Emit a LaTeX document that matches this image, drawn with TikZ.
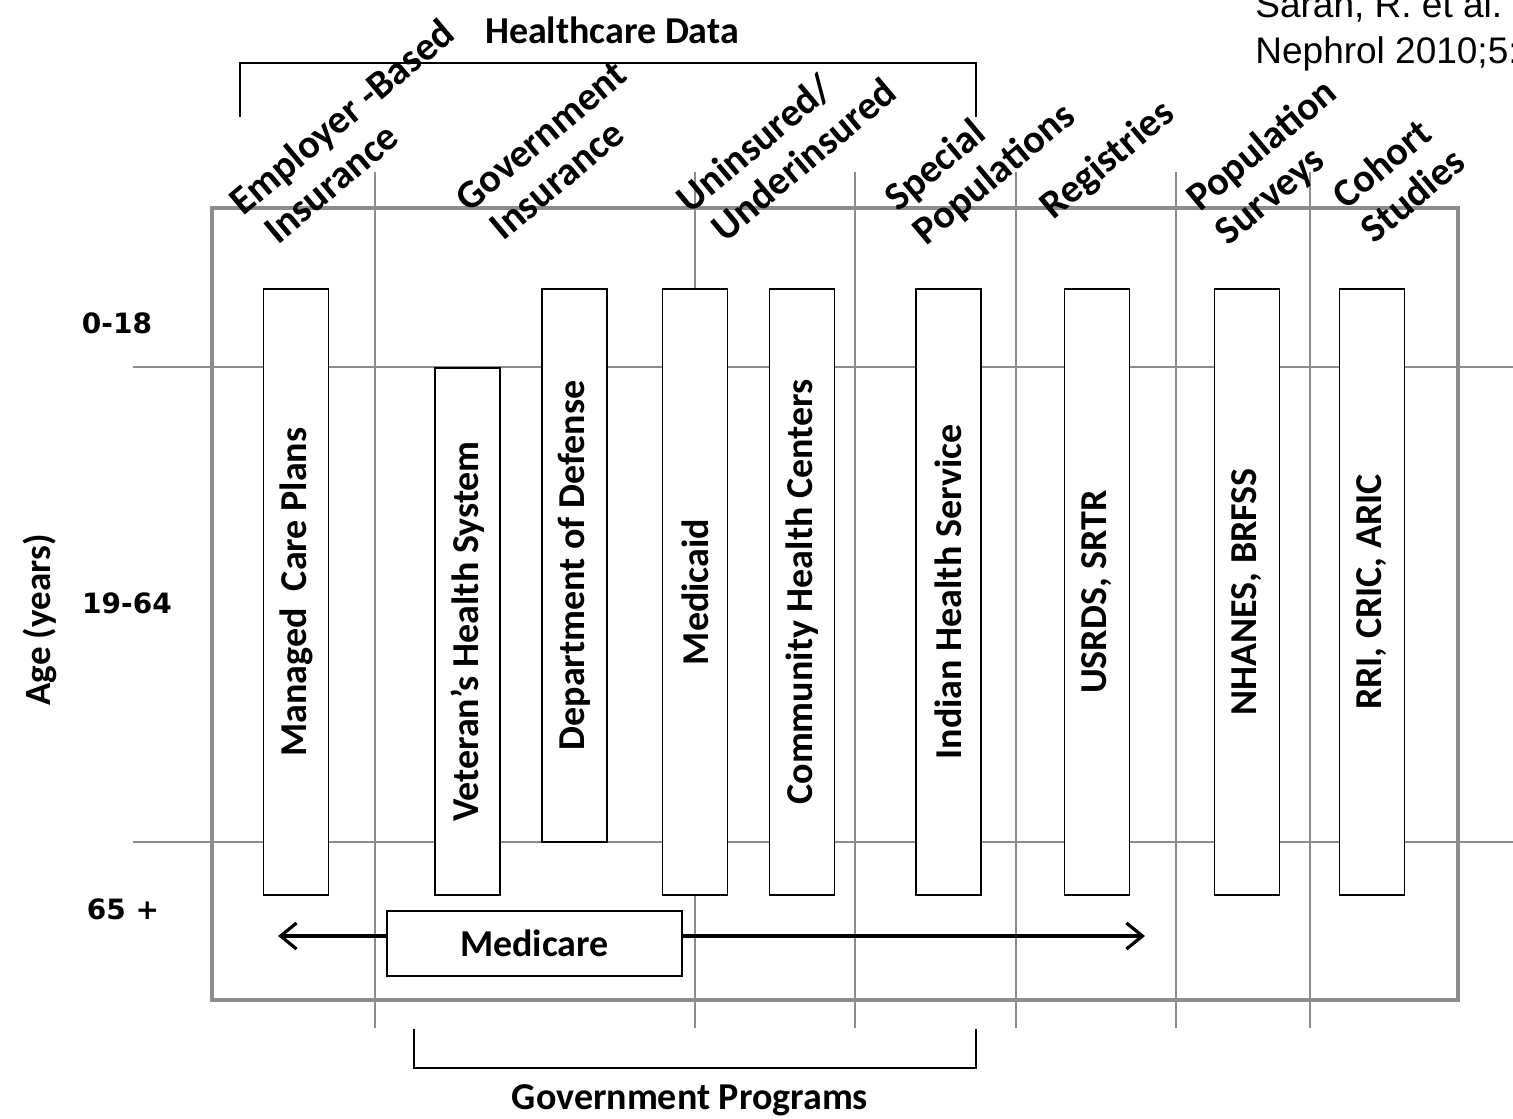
\documentclass[tikz,border=0pt]{standalone}
\usepackage{fontspec}
\setmainfont{Carlito}
\newfontfamily\agefont{DejaVu Sans}
\newfontfamily\citefont{Liberation Sans}
\usetikzlibrary{arrows.meta}
\definecolor{linegray}{HTML}{8C8C8C}

\begin{document}
\begin{tikzpicture}[
    x=0.5pt, y=-0.5pt,
    every node/.style={
      inner sep=0pt,
      font=\bfseries\fontsize{19}{23}\selectfont
    },
    grid/.style={draw=linegray, line width=1pt},
    frame/.style={draw=linegray, line width=2pt},
    bar/.style={draw=black, fill=white, line width=0.9pt, rotate=90, minimum height=32.5pt},
    medbox/.style={draw=black, fill=white, line width=0.9pt},
    head/.style={rotate=40, anchor=north west, align=left, font=\bfseries\fontsize{20}{22}\selectfont},
    age/.style={font=\agefont\bfseries\fontsize{14}{16}\selectfont},
    bracket/.style={draw=black, line width=0.9pt},
    >={Straight Barb[length=8pt, width=13pt, line width=1.6pt]}
  ]

    \useasboundingbox (0,0) rectangle (1513,1118);

    % Grid: age bands and column dividers
    \foreach \y in {367, 842}
      \draw[grid] (133,\y) -- (1513,\y);
    \foreach \x in {375, 695, 855, 1016, 1176, 1310}
      \draw[grid] (\x,172) -- (\x,1028);
    \draw[frame] (212,208) rectangle (1458,1000);

    % Brackets
    \node (hcdata) at (612,30) {Healthcare Data};
    \draw[bracket] (240,117) -- (240,63) -- (976,63) -- (976,117);
    \node (govprog) at (690,1100) {Government Programs};
    \draw[bracket] (414,1029) -- (414,1068) -- (976,1068) -- (976,1029);

    % Column headings
    \node[head] (emp)    at (225,195)  {Employer -Based\\\hspace*{4pt}Insurance};
    \node[head] (gov)    at (452,193)  {Government\\\hspace*{4pt}Insurance};
    \node[head] (unins)  at (672,193)  {Uninsured/\\\hspace*{4pt}Underinsured};
    \node[head] (spec)   at (880,191)  {Special\\Populations};
    \node[head] (reg)    at (1035,199) {Registries};
    \node[head] (survey) at (1182,191) {Population\\Surveys};
    \node[head] (cohort) at (1328,189) {Cohort\\Studies};

    % Age axis
    \node[rotate=90, font=\bfseries\fontsize{18.5}{22}\selectfont] (agelab) at (40,620) {Age (years)};
    \node[age] (a0)  at (117,323) {0-18};
    \node[age] (a19) at (127,603) {19-64};
    \node[age] (a65) at (123,909) {65 +};

    % Data sources
    \node[bar, minimum width=303pt]   (mcp)    at (296,592)     {Managed~~Care Plans};
    \node[bar, minimum width=263.5pt] (vhs)    at (467.5,631.5) {Veteran’s Health System};
    \node[bar, minimum width=276.5pt] (dod)    at (574.5,565.5) {Department of Defense};
    \node[bar, minimum width=303pt]   (mcd)    at (695,592)     {Medicaid};
    \node[bar, minimum width=303pt]   (chc)    at (802,592)     {Community Health Centers};
    \node[bar, minimum width=303pt]   (ihs)    at (948.5,592)   {Indian Health Service};
    \node[bar, minimum width=303pt]   (usrds)  at (1097,592)    {USRDS, SRTR};
    \node[bar, minimum width=303pt]   (nhanes) at (1247,592)    {NHANES, BRFSS};
    \node[bar, minimum width=303pt]   (rri)    at (1372,592)    {RRI, CRIC, ARIC};

    % Medicare
    \node[medbox, minimum width=147.5pt, minimum height=32.5pt] (medicare) at (534.5,943.5) {Medicare};
    \coordinate (medL) at (278,936);
    \coordinate (medR) at (1145,936);
    \draw[->, line width=1.8pt] (medicare.west |- medL) -- (medL);
    \draw[->, line width=1.8pt] (medicare.east |- medR) -- (medR);

    % Source
    \node[anchor=north west, align=left, font=\citefont\fontsize{18.5}{23}\selectfont] (cite)
      at (1255,-9.5) {Saran, R. et al.\\Nephrol 2010;5:};

  \end{tikzpicture}
\end{document}
